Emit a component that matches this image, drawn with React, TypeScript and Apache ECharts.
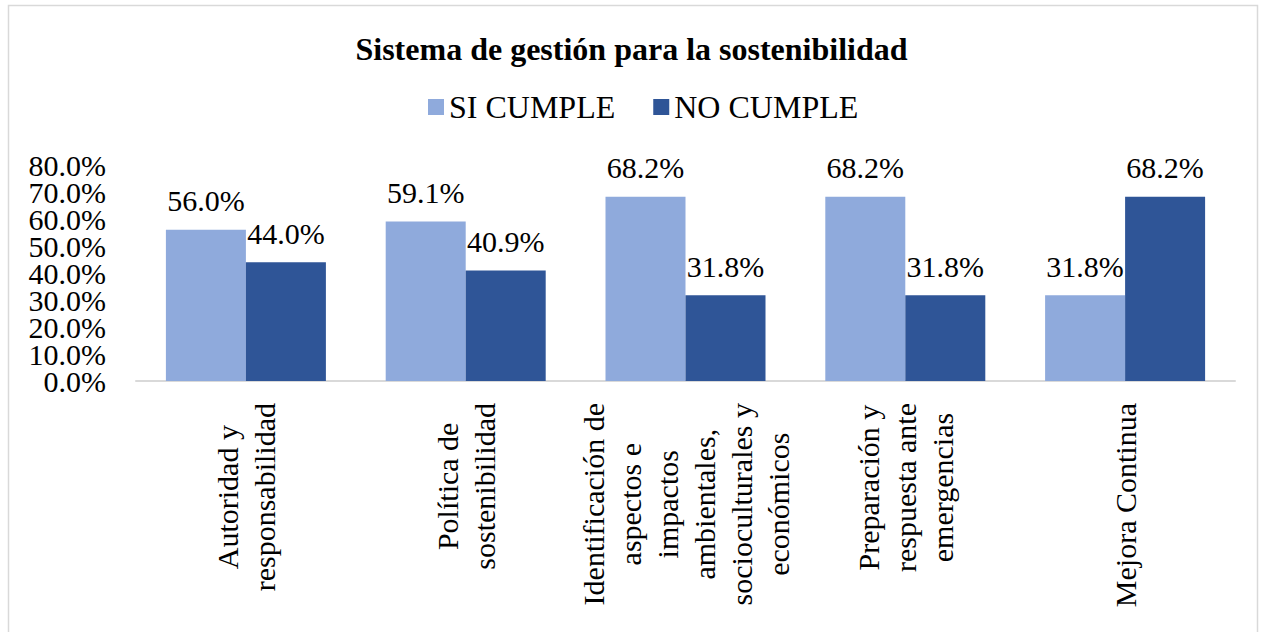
import React, { useEffect, useRef } from "react";
import * as echarts from "echarts";

const categories = [
  "Autoridad y\nresponsabilidad",
  "Política de\nsostenibilidad",
  "Identificación de\naspectos e\nimpactos\nambientales,\nsocioculturales y\neconómicos",
  "Preparación y\nrespuesta ante\nemergencias",
  "Mejora Continua",
];
const siCumple = [56.0, 59.1, 68.2, 68.2, 31.8];
const noCumple = [44.0, 40.9, 31.8, 31.8, 68.2];
const seriesNames = ["SI CUMPLE", "NO CUMPLE"];
const titleText = "Sistema de gestión para la sostenibilidad";
const yMin = 0;
const yMax = 80;
const yStep = 10;

const FONT = "'Liberation Serif', 'Times New Roman', serif";

export default function App() {
  const ref = useRef<HTMLDivElement>(null);
  useEffect(() => {
    if (!ref.current) return;
    const chart = echarts.init(ref.current, undefined, { renderer: "svg" });
    const labelCommon = {
      show: true,
      position: "top" as const,
      distance: 14,
      fontFamily: FONT,
      fontSize: 30,
      color: "#000",
      formatter: (p: any) => `${Number(p.value).toFixed(1)}%`,
    };
    // Two overlaid identical value axes: one labels the even ticks, the other the odd ones,
    // so that ECharts' min/max overlap pruning keeps every tick label.
    const makeYAxis = (even: boolean) => ({
      type: "value",
      min: yMin,
      max: yMax,
      interval: yStep,
      position: "left",
      offset: 0,
      splitLine: { show: false },
      axisLine: { show: false },
      axisTick: { show: false },
      axisLabel: {
        margin: 30,
        color: "#000",
        fontFamily: FONT,
        fontSize: 30,
        showMinLabel: even,
        showMaxLabel: even,
        hideOverlap: false,
        formatter: (v: number) => {
          const isEven = Math.round(v / yStep) % 2 === 0;
          return isEven === even ? `${v.toFixed(1)}%` : "";
        },
      },
    });
    chart.setOption({
      animation: false,
      backgroundColor: "#fff",
      graphic: [
        {
          type: "rect",
          shape: { x: 8.5, y: 5.5, width: 1249, height: 650 },
          style: { fill: "none", stroke: "#d9d9d9", lineWidth: 1.5 },
          silent: true,
        },
      ],
      title: {
        text: titleText,
        left: "center",
        top: 28,
        textStyle: { fontFamily: FONT, fontSize: 32, fontWeight: "bold", color: "#000" },
      },
      legend: {
        top: 86,
        left: 423,
        itemWidth: 16,
        itemHeight: 16,
        itemGap: 38,
        icon: "rect",
        textStyle: { fontFamily: FONT, fontSize: 32, color: "#000" },
        data: seriesNames,
      },
      grid: { left: 136, right: 28, top: 165, bottom: 251, containLabel: false },
      xAxis: {
        type: "category",
        data: categories,
        axisLine: { lineStyle: { color: "#d9d9d9", width: 2 } },
        axisTick: { show: false },
        axisLabel: {
          rotate: 90,
          interval: 0,
          margin: 22,
          fontFamily: FONT,
          fontSize: 30,
          color: "#000",
          lineHeight: 37,
          formatter: (v: string) =>
            v
              .split("\n")
              .map((l) => `{c|${l}}`)
              .join("\n"),
          rich: {
            c: { align: "center", fontFamily: FONT, fontSize: 30, color: "#000", lineHeight: 37 },
          },
        },
      },
      yAxis: [makeYAxis(true), makeYAxis(false)],
      series: [
        {
          name: seriesNames[0],
          type: "bar",
          data: siCumple,
          barWidth: 80,
          barGap: "0%",
          itemStyle: { color: "#8FAADC" },
          label: labelCommon,
        },
        {
          name: seriesNames[1],
          type: "bar",
          data: noCumple,
          barWidth: 80,
          barGap: "0%",
          itemStyle: { color: "#2F5597" },
          label: labelCommon,
        },
      ],
    });
    return () => chart.dispose();
  }, []);
  return (
    <div
      ref={ref}
      style={{ position: "absolute", left: 0, top: 0, width: 1263, height: 632 }}
    />
  );
}
